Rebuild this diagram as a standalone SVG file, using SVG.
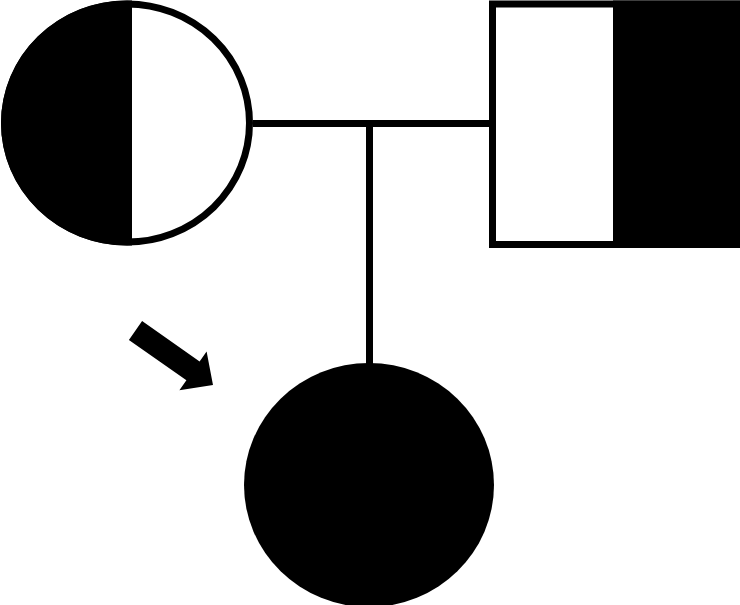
<svg xmlns="http://www.w3.org/2000/svg" width="740" height="605" viewBox="0 0 740 605">
<style>
.ln{stroke:#000;stroke-width:7;fill:none}
.blk{fill:#000}
</style>
<defs>
<clipPath id="leftHalf"><rect x="0" y="0" width="132" height="250"/></clipPath>
</defs>
<rect width="740" height="605" fill="#fff"/>
<g id="connectors">
<line class="ln" x1="250" y1="123.5" x2="492" y2="123.5"/>
<line class="ln" x1="369.5" y1="123.5" x2="369.5" y2="370"/>
</g>
<g id="mother">
<ellipse cx="127" cy="123" rx="126" ry="122.5" fill="#fff"/>
<ellipse cx="127" cy="123" rx="126" ry="122.5" class="blk" clip-path="url(#leftHalf)"/>
<ellipse cx="127" cy="123" rx="122.5" ry="119" class="ln"/>
</g>
<g id="father">
<rect x="492.5" y="4" width="260" height="240.5" fill="#fff" class="ln"/>
<rect x="613" y="0.5" width="130" height="247.5" class="blk"/>
</g>
<g id="proband">
<ellipse cx="369" cy="485" rx="125" ry="122" class="blk"/>
</g>
<g id="arrow">
<polygon class="blk" points="128.9,339.9 142.1,321.1 199.6,361.5 206.6,351.6 213,385 179.4,390.2 186.4,380.3"/>
</g>
</svg>
